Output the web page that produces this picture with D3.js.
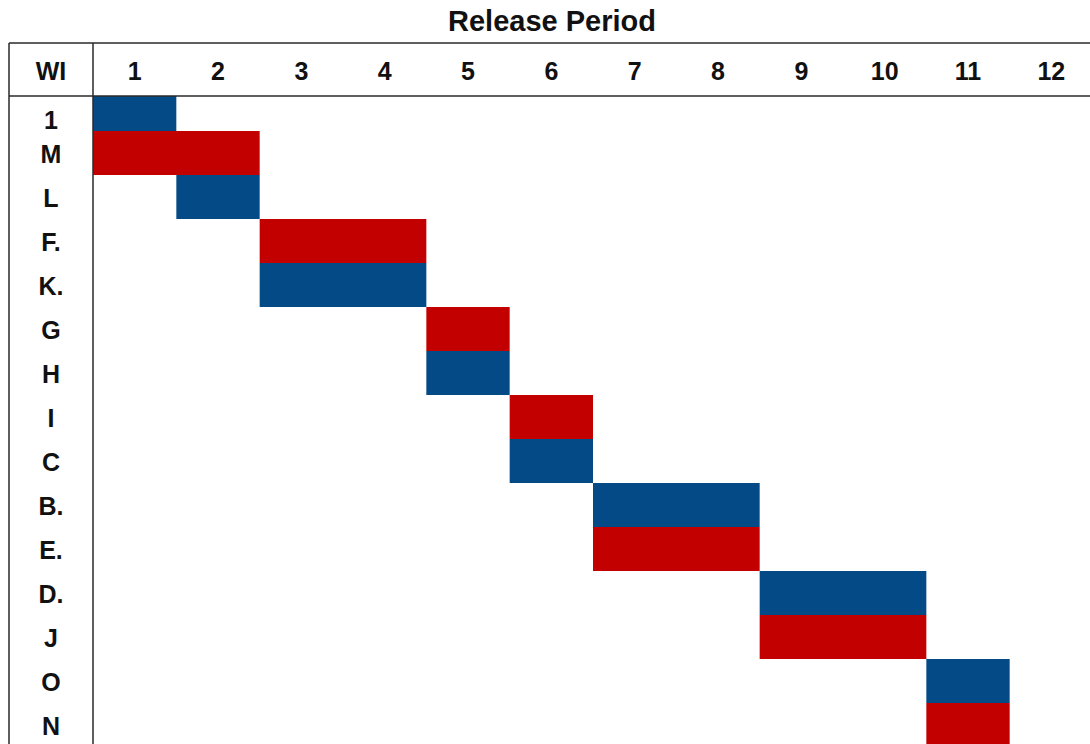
<!DOCTYPE html>
<html>
<head>
<meta charset="utf-8">
<script src="https://cdn.jsdelivr.net/npm/d3@7"></script>
<style>
  html, body { margin: 0; padding: 0; background: #fff; }
  svg { display: block; }
  text { font-family: "Liberation Sans", Arial, Helvetica, sans-serif; font-weight: bold; fill: #111; }
</style>
</head>
<body>
<svg id="chart" width="1090" height="744"></svg>
<script>
// ---- data ----
const title = "Release Period";
const headerLabel = "WI";
const periods = [1, 2, 3, 4, 5, 6, 7, 8, 9, 10, 11, 12];
const workItems = ["1", "M", "L", "F.", "K.", "G", "H", "I", "C", "B.", "E.", "D.", "J", "O", "N"];
const startPeriod = [1, 1, 2, 3, 3, 5, 5, 6, 6, 7, 7, 9, 9, 11, 11];
const endPeriod   = [1, 2, 2, 4, 4, 5, 5, 6, 6, 8, 8, 10, 10, 11, 11];
const seriesKey   = ["A", "B", "A", "B", "A", "B", "A", "B", "A", "A", "B", "A", "B", "A", "B"];
const seriesNames = ["A", "B"];
const seriesColors = ["#034a86", "#c20000"];

// ---- layout ----
const svg = d3.select("#chart");
const tableLeft = 9, labelRight = 93, tableTop = 43, headerBottom = 96;
const colW = 1000 / 12;
const rowH = 44;
const rowsTop = 87;

const x = d3.scaleLinear().domain([1, 13]).range([labelRight, labelRight + 12 * colW]);
const y = d3.scaleBand().domain(workItems).range([rowsTop, rowsTop + rowH * workItems.length]).padding(0);
const color = d3.scaleOrdinal().domain(seriesNames).range(seriesColors);

const bars = workItems.map((w, i) => ({ w, s: startPeriod[i], e: endPeriod[i], k: seriesKey[i] }));

// clip body
svg.append("defs").append("clipPath").attr("id", "body")
  .append("rect").attr("x", labelRight).attr("y", headerBottom)
  .attr("width", 1090 - labelRight).attr("height", 744 - headerBottom);

svg.append("g").attr("clip-path", "url(#body)")
  .selectAll("rect").data(bars).join("rect")
  .attr("x", d => x(d.s))
  .attr("y", d => y(d.w))
  .attr("width", d => x(d.e + 1) - x(d.s))
  .attr("height", y.bandwidth())
  .attr("fill", d => color(d.k));

// title
svg.append("text").attr("x", 552).attr("y", 31)
  .attr("text-anchor", "middle").attr("font-size", 29).text(title);

// header labels
const headerY = (tableTop + headerBottom) / 2 + 1;
svg.append("text").attr("x", (tableLeft + labelRight) / 2).attr("y", headerY)
  .attr("text-anchor", "middle").attr("dominant-baseline", "central")
  .attr("font-size", 25).text(headerLabel);

svg.append("g").selectAll("text").data(periods).join("text")
  .attr("x", d => x(d) + colW / 2)
  .attr("y", headerY)
  .attr("text-anchor", "middle").attr("dominant-baseline", "central")
  .attr("font-size", 25).text(d => d);

// row labels
svg.append("g").selectAll("text").data(workItems).join("text")
  .attr("x", (tableLeft + labelRight) / 2)
  .attr("y", d => Math.max(y(d) + y.bandwidth() / 2, headerBottom + 23) + 1)
  .attr("text-anchor", "middle").attr("dominant-baseline", "central")
  .attr("font-size", 25).text(d => d);

// grid lines
const lineColor = "#2a2a2a";
const lines = [
  [tableLeft, tableTop, 1090, tableTop],
  [tableLeft, headerBottom, 1090, headerBottom],
  [tableLeft, tableTop, tableLeft, 744],
  [labelRight, tableTop, labelRight, 744]
];
svg.append("g").selectAll("line").data(lines).join("line")
  .attr("x1", d => d[0]).attr("y1", d => d[1])
  .attr("x2", d => d[2]).attr("y2", d => d[3])
  .attr("stroke", lineColor).attr("stroke-width", 1.5);
</script>
</body>
</html>
